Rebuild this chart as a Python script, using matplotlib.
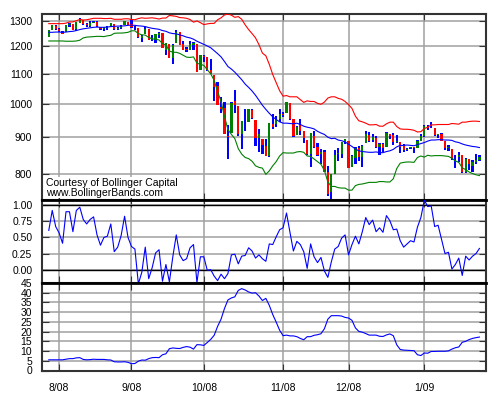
import matplotlib
matplotlib.use("Agg")
import matplotlib.pyplot as plt
import numpy as np
import pandas as pd

plt.rcParams['font.family'] = ['Liberation Sans', 'DejaVu Sans']

# trading days shown (Jul 29 2008 - Jan 27 2009), market holidays skipped
holidays = ['2008-09-01', '2008-11-27', '2008-12-25', '2009-01-01', '2009-01-19']
month_labels = ['8/08', '9/08', '10/08', '11/08', '12/08', '1/09']

opens = [1236.4, 1264.5, 1281.4, 1269.4, 1253.3, 1254.9, 1284.0, 1286.5, 1266.3, 1294.4,
         1304.8, 1288.6, 1282.1, 1293.9, 1298.1, 1276.7, 1267.3, 1271.1, 1277.6, 1290.5,
         1267.0, 1271.3, 1283.8, 1296.5, 1287.8, 1276.6, 1271.8, 1233.2, 1249.5, 1268.0,
         1227.5, 1229.0, 1245.9, 1250.9, 1188.3, 1210.3, 1157.1, 1213.1, 1255.4, 1207.6,
         1188.8, 1187.9, 1204.5, 1209.1, 1113.8, 1164.2, 1160.6, 1115.2, 1097.6, 1057.6,
         988.9, 988.4, 902.3, 912.8, 1010.0, 994.6, 909.5, 942.3, 943.5, 980.4,
         951.7, 899.1, 895.2, 874.3, 848.9, 939.5, 939.4, 953.1, 968.7, 971.3,
         1001.8, 952.4, 907.4, 936.8, 917.2, 893.4, 853.1, 904.4, 873.2, 852.3,
         859.0, 805.0, 755.8, 801.2, 853.4, 852.9, 886.9, 888.6, 817.9, 843.6,
         869.8, 844.4, 882.7, 906.5, 892.2, 898.4, 871.8, 881.1, 871.5, 908.2,
         905.0, 887.0, 887.2, 874.3, 863.9, 869.5, 872.4, 870.6, 890.6, 903.0,
         929.2, 931.2, 927.5, 905.7, 909.9, 890.4, 869.8, 867.3, 842.0, 844.5,
         849.6, 806.8, 839.7, 822.2, 832.5, 837.3]
highs = [1263.2, 1284.3, 1284.9, 1270.5, 1260.5, 1284.9, 1291.7, 1286.5, 1297.9, 1313.2,
         1304.8, 1294.0, 1300.1, 1302.0, 1300.2, 1276.7, 1276.0, 1281.6, 1293.1, 1290.5,
         1275.7, 1285.1, 1300.7, 1297.6, 1303.0, 1280.6, 1271.8, 1244.9, 1274.4, 1268.7,
         1243.9, 1250.0, 1255.1, 1250.9, 1214.8, 1210.3, 1211.1, 1265.1, 1255.4, 1221.2,
         1197.4, 1220.0, 1215.8, 1209.1, 1168.0, 1167.0, 1160.6, 1153.8, 1097.6, 1072.9,
         1021.1, 1005.3, 936.4, 1006.9, 1044.3, 994.6, 947.7, 984.6, 985.4, 985.4,
         951.7, 922.8, 896.3, 893.8, 940.5, 970.0, 963.2, 984.4, 975.5, 1007.5,
         1001.8, 952.4, 931.5, 952.0, 917.2, 893.4, 913.0, 916.9, 882.3, 865.9,
         864.6, 820.5, 801.2, 865.6, 868.9, 887.7, 896.3, 888.6, 850.5, 873.1,
         875.6, 879.4, 918.6, 916.3, 908.3, 904.6, 883.2, 884.6, 914.7, 908.2,
         911.0, 905.5, 887.4, 880.4, 869.8, 873.7, 873.7, 891.1, 910.3, 934.7,
         936.6, 943.9, 927.5, 910.0, 911.9, 890.4, 877.0, 867.3, 851.6, 858.1,
         849.6, 841.7, 839.7, 838.6, 852.5, 850.5]
lows = [1236.4, 1264.5, 1265.1, 1254.5, 1247.5, 1254.7, 1276.0, 1264.3, 1262.1, 1291.4,
        1285.6, 1274.9, 1276.8, 1290.7, 1274.5, 1263.1, 1261.2, 1264.8, 1277.6, 1264.9,
        1263.2, 1270.0, 1283.8, 1282.7, 1272.2, 1265.6, 1232.8, 1217.2, 1247.1, 1224.5,
        1221.6, 1211.5, 1233.8, 1192.7, 1169.3, 1155.9, 1133.5, 1213.1, 1205.6, 1187.1,
        1179.8, 1187.9, 1187.5, 1106.4, 1113.8, 1140.8, 1111.4, 1098.1, 1008.0, 996.2,
        971.0, 909.2, 839.8, 912.8, 972.1, 904.0, 865.8, 918.7, 943.5, 952.5,
        875.8, 858.4, 852.9, 846.8, 845.3, 922.3, 928.5, 944.6, 958.6, 971.3,
        949.9, 899.7, 906.9, 907.5, 884.9, 850.5, 818.7, 869.9, 849.0, 826.8,
        806.2, 747.8, 741.0, 801.2, 835.0, 841.4, 881.2, 815.7, 817.9, 827.6,
        833.6, 818.4, 882.7, 885.4, 885.5, 868.7, 851.4, 857.7, 871.5, 895.9,
        877.4, 883.0, 857.1, 860.1, 861.4, 866.5, 857.1, 870.6, 889.4, 899.4,
        919.5, 927.3, 902.4, 896.8, 888.3, 864.3, 862.0, 836.9, 817.0, 830.7,
        804.5, 804.3, 811.3, 806.1, 827.7, 835.4]
closes = [1263.2, 1284.3, 1267.4, 1260.3, 1249.0, 1284.9, 1289.2, 1266.1, 1296.3, 1305.3,
          1289.6, 1285.8, 1292.9, 1298.2, 1278.6, 1266.7, 1275.0, 1277.7, 1292.2, 1266.8,
          1271.5, 1281.7, 1300.7, 1282.8, 1277.6, 1275.0, 1236.8, 1242.3, 1267.8, 1224.5,
          1232.0, 1249.1, 1251.7, 1192.7, 1213.6, 1156.4, 1206.5, 1255.1, 1207.1, 1188.2,
          1185.9, 1209.2, 1213.3, 1106.4, 1166.4, 1161.1, 1114.3, 1099.2, 1056.9, 996.2,
          984.9, 909.9, 899.2, 1003.4, 998.0, 907.8, 946.4, 940.6, 985.4, 955.1,
          896.8, 908.1, 876.8, 848.9, 940.5, 930.1, 954.1, 968.8, 966.3, 1005.8,
          952.8, 904.9, 931.0, 919.2, 899.0, 852.3, 911.3, 873.3, 850.8, 859.1,
          806.6, 752.4, 800.0, 851.8, 857.4, 887.7, 896.2, 816.2, 848.8, 870.7,
          845.2, 876.1, 909.7, 888.7, 899.2, 873.6, 879.7, 868.6, 913.2, 904.4,
          885.3, 887.9, 871.6, 863.2, 868.2, 872.8, 869.4, 890.6, 903.3, 931.8,
          927.5, 934.7, 906.7, 909.7, 890.4, 870.3, 871.8, 842.6, 843.7, 850.1,
          805.2, 840.2, 827.5, 832.0, 836.6, 845.7]

# Bollinger bands (20 day, 2 sd)
upper_band = [1290, 1290, 1290, 1290, 1290, 1292, 1297, 1297, 1302, 1307,
              1305, 1306, 1309, 1312, 1312, 1312, 1311, 1311, 1312, 1308,
              1308, 1308, 1310, 1310, 1307, 1306, 1311, 1314, 1312, 1313,
              1314, 1312, 1309, 1313, 1313, 1324, 1322, 1320, 1315, 1314,
              1312, 1307, 1296, 1301, 1294, 1286, 1289, 1291, 1291, 1306,
              1314, 1326, 1330, 1325, 1316, 1319, 1308, 1285, 1266, 1250,
              1233, 1207, 1175, 1165, 1134, 1098, 1070, 1043, 1025, 1027,
              1023, 1023, 1023, 1014, 1005, 1010, 1008, 1008, 1002, 999,
              1006, 1019, 1023, 1023, 1018, 1015, 1008, 998, 986, 962,
              948, 945, 941, 936, 936, 937, 932, 932, 939, 944,
              944, 931, 924, 923, 923, 922, 920, 915, 916, 925,
              929, 936, 936, 937, 937, 937, 937, 940, 939, 938,
              944, 944, 946, 947, 947, 946]
middle_band = [1255, 1255, 1256, 1256, 1255, 1256, 1258, 1259, 1262, 1266,
               1269, 1271, 1273, 1275, 1276, 1275, 1275, 1276, 1278, 1279,
               1280, 1280, 1281, 1283, 1284, 1283, 1281, 1280, 1278, 1274,
               1271, 1269, 1267, 1262, 1259, 1253, 1250, 1249, 1245, 1241,
               1236, 1233, 1228, 1220, 1214, 1208, 1202, 1195, 1184, 1173,
               1161, 1144, 1126, 1117, 1106, 1093, 1080, 1065, 1054, 1042,
               1028, 1012, 996, 983, 971, 960, 952, 945, 941, 941,
               940, 939, 941, 937, 932, 929, 927, 924, 917, 912,
               908, 900, 896, 897, 892, 890, 887, 880, 874, 867,
               862, 860, 859, 858, 858, 859, 857, 857, 860, 862,
               866, 873, 877, 877, 878, 877, 876, 879, 882, 885,
               889, 892, 892, 893, 893, 892, 892, 891, 887, 885,
               881, 878, 876, 874, 873, 871]
lower_band = [1221, 1221, 1221, 1221, 1221, 1220, 1220, 1220, 1221, 1224,
              1233, 1236, 1237, 1238, 1239, 1239, 1238, 1241, 1243, 1251,
              1252, 1252, 1253, 1255, 1261, 1261, 1250, 1245, 1244, 1235,
              1229, 1227, 1225, 1211, 1205, 1183, 1178, 1178, 1174, 1167,
              1160, 1159, 1161, 1138, 1134, 1130, 1115, 1100, 1078, 1040,
              1008, 961, 922, 908, 896, 868, 853, 844, 841, 834,
              822, 818, 816, 800, 809, 822, 833, 848, 857, 856,
              856, 856, 859, 860, 858, 848, 847, 840, 833, 826,
              810, 781, 770, 770, 767, 766, 766, 761, 761, 772,
              775, 776, 778, 780, 780, 780, 782, 782, 781, 781,
              789, 815, 829, 831, 832, 832, 831, 844, 848, 845,
              850, 848, 849, 849, 849, 848, 847, 842, 835, 831,
              817, 812, 806, 802, 799, 797]

# %b panel
percent_b = [0.61, 0.92, 0.67, 0.57, 0.41, 0.90, 0.90, 0.59, 0.92, 0.97,
             0.78, 0.71, 0.78, 0.82, 0.54, 0.38, 0.50, 0.52, 0.71, 0.28,
             0.35, 0.53, 0.83, 0.50, 0.36, 0.32, -0.22, -0.04, 0.35, -0.14,
             0.03, 0.26, 0.31, -0.18, 0.08, -0.19, 0.20, 0.54, 0.23, 0.14,
             0.17, 0.34, 0.39, -0.20, 0.20, 0.20, -0.01, 0.00, -0.10, -0.17,
             -0.07, -0.14, -0.06, 0.23, 0.24, 0.09, 0.21, 0.22, 0.34, 0.29,
             0.18, 0.23, 0.17, 0.13, 0.40, 0.39, 0.51, 0.62, 0.65, 0.88,
             0.58, 0.29, 0.44, 0.39, 0.28, 0.02, 0.40, 0.20, 0.11, 0.19,
             -0.02, -0.12, 0.12, 0.32, 0.36, 0.49, 0.54, 0.23, 0.39, 0.52,
             0.40, 0.59, 0.81, 0.70, 0.77, 0.59, 0.65, 0.58, 0.84, 0.76,
             0.62, 0.63, 0.45, 0.35, 0.40, 0.45, 0.43, 0.66, 0.81, 1.08,
             0.98, 0.99, 0.67, 0.69, 0.47, 0.25, 0.27, 0.01, 0.08, 0.18,
             -0.09, 0.21, 0.15, 0.21, 0.25, 0.33]

# BandWidth panel
bandwidth = [5.5, 5.5, 5.5, 5.5, 5.5, 5.8, 6.1, 6.1, 6.5, 6.6,
             5.7, 5.5, 5.6, 5.8, 5.7, 5.7, 5.7, 5.5, 5.4, 4.5,
             4.4, 4.4, 4.5, 4.2, 3.5, 3.6, 4.8, 5.4, 5.3, 6.1,
             6.6, 6.7, 6.6, 8.1, 8.6, 11.2, 11.6, 11.4, 11.3, 11.9,
             12.3, 12.0, 11.0, 13.3, 13.2, 12.9, 14.4, 16.0, 18.1, 22.7,
             26.4, 31.9, 36.3, 37.3, 37.9, 41.2, 42.1, 41.4, 40.4, 39.8,
             40.0, 38.3, 36.0, 37.1, 33.5, 28.8, 24.9, 20.7, 17.9, 18.2,
             17.8, 17.8, 17.4, 16.5, 15.8, 17.4, 17.4, 18.1, 18.4, 18.9,
             21.5, 26.4, 28.2, 28.2, 28.2, 28.0, 27.3, 27.0, 25.8, 21.9,
             20.1, 19.7, 19.0, 18.2, 18.2, 18.2, 17.6, 17.5, 18.3, 18.8,
             17.9, 13.2, 10.8, 10.5, 10.4, 10.3, 10.2, 8.1, 7.7, 9.0,
             8.9, 9.8, 9.8, 9.9, 9.9, 9.9, 10.1, 11.0, 11.7, 12.1,
             14.5, 15.0, 15.9, 16.5, 16.9, 17.2]

days = pd.bdate_range('2008-07-29', '2009-01-27')
days = days[~days.isin(pd.to_datetime(holidays))]

o = np.array(opens)
h = np.array(highs)
l = np.array(lows)
c = np.array(closes)
x = np.arange(len(c))

# first trading day of each month gets a tick
per = days.to_period('M')
firsts = [i for i in range(1, len(days)) if per[i] != per[i - 1]]

fig = plt.figure(figsize=(5, 4), dpi=100)
W, H = 500.0, 400.0
left, width = 42 / W, 444 / W
ax1 = fig.add_axes([left, 1 - 200 / H, width, 186 / H])
ax2 = fig.add_axes([left, 1 - 283 / H, width, 83 / H])
ax3 = fig.add_axes([left, 1 - 370.5 / H, width, 87.5 / H])

grid_c = '#a0a0a0'
frame_c = '#333333'

# price bars: blue high-low range, body coloured by direction
ax1.set_yscale('log')
ax1.bar(x, h - l, bottom=l, width=0.65, color='#0000ff', zorder=3)
body_col = np.where(c >= o, '#008000', '#ff0000')
ax1.bar(x, np.abs(c - o), bottom=np.minimum(o, c), width=0.65, color=body_col, zorder=4)
ax1.plot(x, upper_band, color='#ff0000', lw=0.8, zorder=5)
ax1.plot(x, middle_band, color='#0000ff', lw=0.8, zorder=5)
ax1.plot(x, lower_band, color='#008000', lw=0.8, zorder=5)
ax1.set_ylim(737.6, 1330)
ax1.set_yticks([800, 900, 1000, 1100, 1200, 1300])
ax1.set_yticklabels(['800', '900', '1000', '1100', '1200', '1300'])
ax1.yaxis.set_minor_locator(matplotlib.ticker.NullLocator())
ax1.text(0.01, 0.012, 'Courtesy of Bollinger Capital\nwww.BollingerBands.com',
         transform=ax1.transAxes, fontsize=7.5, va='bottom', ha='left', linespacing=0.95,
         zorder=6, bbox=dict(facecolor='white', edgecolor='none', pad=0.5))

ax2.plot(x, percent_b, color='#0000ff', lw=0.8, zorder=5)
ax2.set_ylim(-0.207, 1.082)
ax2.set_yticks([0, 0.25, 0.5, 0.75, 1.0])
ax2.set_yticklabels(['0.00', '0.25', '0.50', '0.75', '1.00'])
ax2.axhline(0, color='black', lw=1, zorder=2)
ax2.axhline(1, color='black', lw=1, zorder=2)

ax3.plot(x, bandwidth, color='#0000ff', lw=0.8, zorder=5)
ax3.set_ylim(0, 45)
ax3.set_yticks(range(0, 50, 5))

for ax in (ax1, ax2, ax3):
    ax.set_xlim(-1.97, 126.9)
    ax.set_xticks(firsts)
    ax.grid(True, color=grid_c, lw=1.1, zorder=1)
    ax.set_axisbelow(True)
    ax.tick_params(axis='both', direction='in', length=5, color=frame_c,
                   labelsize=7.5, left=True, right=True, top=True, bottom=True, pad=7)
    ax.tick_params(axis='x', labelbottom=False)
    for s in ax.spines.values():
        s.set_color(frame_c)
        s.set_linewidth(1.5)
ax2.spines['top'].set_color('black')
ax2.spines['top'].set_linewidth(2)
ax3.spines['top'].set_color('black')
ax3.spines['top'].set_linewidth(2)
ax3.tick_params(axis='x', labelbottom=True, pad=9)
ax3.set_xticklabels(month_labels)

fig.savefig('out.png', dpi=100)
